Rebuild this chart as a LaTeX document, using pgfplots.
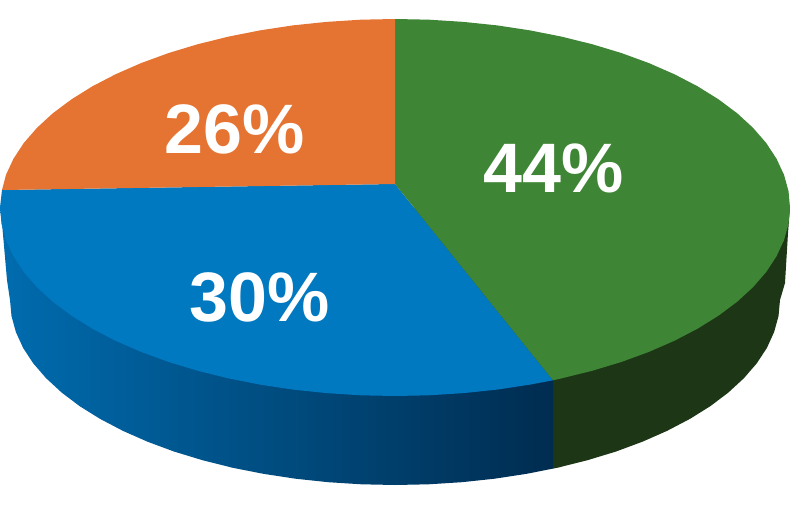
\documentclass[border=0pt]{standalone}
\usepackage{pgfplots}
\pgfplotsset{compat=1.18}
\usepackage{fontspec}
\setmainfont{Liberation Sans}
\definecolor{cgreen}{RGB}{63,133,54}
\definecolor{corange}{RGB}{229,116,50}
\definecolor{cblue}{RGB}{0,121,193}
\definecolor{cdgreen}{RGB}{28,54,22}
\definecolor{sideL}{RGB}{0,108,175}
\definecolor{sideR}{RGB}{0,44,80}
\begin{document}
\begin{tikzpicture}
\begin{axis}[
  scale only axis, width=795pt, height=511pt,
  xmin=0, xmax=795, ymin=0, ymax=511, y dir=reverse,
  axis lines=none, clip=false,
]
\addplot[draw=none,forget plot] coordinates {(0,0)(795,511)};
% side of the blue slice, shaded darker to the right
\addplot[draw=none,left color=sideL,right color=sideR] coordinates {(0,207.5)(2,223)(7,280)(10,300)(11.5,316.1)(15.9,332.1)(23.1,347.9)(33.2,363.3)(46.1,378.2)(61.6,392.5)(79.6,406.1)(100.1,418.9)(122.8,430.8)(147.5,441.7)(174.2,451.6)(202.5,460.2)(232.3,467.7)(263.3,473.8)(295.4,478.7)(328.2,482.2)(361.4,484.3)(395,485)(428.6,484.3)(461.8,482.2)(494.6,478.7)(526.7,473.8)(553,468.6)(553,208)} --cycle;
% side of the green slice
\addplot[draw=none,fill=cdgreen] coordinates {(790,207.5)(788,233)(785,283)(780,300)(778.5,316.1)(774.1,332.1)(766.9,347.9)(756.8,363.3)(743.9,378.2)(728.4,392.5)(710.4,406.1)(689.9,418.9)(667.2,430.8)(642.5,441.7)(615.8,451.6)(587.5,460.2)(557.7,467.7)(553,468.6)(553,300)} --cycle;
% blue top
\addplot[draw=none,fill=cblue] coordinates {(395,184)(2,190)(0,207.5)(1.5,223.9)(6,240.2)(13.5,256.3)(23.8,272)(37,287.2)(52.9,301.8)(71.4,315.6)(92.4,328.7)(115.7,340.8)(141.1,351.9)(168.4,361.9)(197.5,370.7)(228.1,378.3)(259.9,384.6)(292.8,389.6)(326.4,393.1)(360.6,395.3)(395,396)(429.4,395.3)(463.6,393.1)(497.2,389.6)(530.1,384.6)(553,380.3)} --cycle;
% green top
\addplot[draw=none,fill=cgreen] coordinates {(395,184)(395,19)(429.4,19.7)(463.6,21.9)(497.2,25.4)(530.1,30.4)(561.9,36.7)(592.5,44.3)(621.6,53.1)(648.9,63.1)(674.3,74.2)(697.6,86.3)(718.6,99.4)(737.1,113.2)(753,127.8)(766.2,143)(776.5,158.7)(784,174.8)(788.5,191.1)(790,207.5)(788.5,223.9)(784,240.2)(776.5,256.3)(766.2,272)(753,287.2)(737.1,301.8)(718.6,315.6)(697.6,328.7)(674.3,340.8)(648.9,351.9)(621.6,361.9)(592.5,370.7)(561.9,378.3)(553,380.3)} --cycle;
% orange top
\addplot[draw=none,fill=corange] coordinates {(395,184)(395,19)(360.6,19.7)(326.4,21.9)(292.8,25.4)(259.9,30.4)(228.1,36.7)(197.5,44.3)(168.4,53.1)(141.1,63.1)(115.7,74.2)(92.4,86.3)(71.4,99.4)(52.9,113.2)(37,127.8)(23.8,143)(13.5,158.7)(6,174.8)(2,190)} --cycle;
\node[white,font=\fontsize{70}{70}\selectfont\bfseries,inner sep=0pt] at (axis cs:553.5,168.5) {44\%};
\node[white,font=\fontsize{70}{70}\selectfont\bfseries,inner sep=0pt] at (axis cs:234.5,129.5) {26\%};
\node[white,font=\fontsize{70}{70}\selectfont\bfseries,inner sep=0pt] at (axis cs:259.5,297.5) {30\%};
\end{axis}
\end{tikzpicture}
\end{document}
